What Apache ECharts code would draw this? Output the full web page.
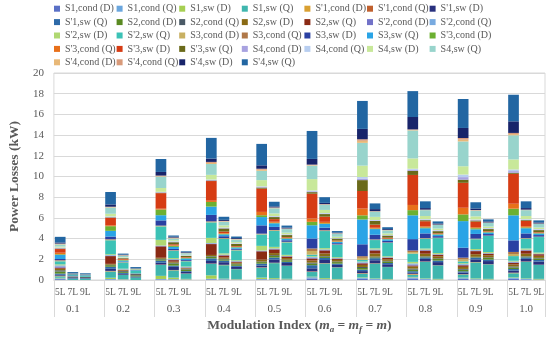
<!DOCTYPE html>
<html><head><meta charset="utf-8">
<script src="https://cdn.jsdelivr.net/npm/echarts@6/dist/echarts.min.js"></script>
<style>html,body{margin:0;padding:0;background:#fff}#c{width:550px;height:339px}</style>
</head><body><div id="c"></div>
<script>
const groups = ['0.1','0.2','0.3','0.4','0.5','0.6','0.7','0.8','0.9','1.0'];
const levels = ['5L','7L','9L'];
const seriesNames = [
 "S1,cond (D)","S1,cond (Q)","S1,sw (D)","S1,sw (Q)","S'1,cond (D)","S'1,cond (Q)","S'1,sw (D)","S'1,sw (Q)",
 "S2,cond (D)","S2,cond (Q)","S2,sw (D)","S2,sw (Q)","S'2,cond (D)","S'2,cond (Q)","S'2,sw (D)","S'2,sw (Q)",
 "S3,cond (D)","S3,cond (Q)","S3,sw (D)","S3,sw (Q)","S'3,cond (D)","S'3,cond (Q)","S'3,sw (D)","S'3,sw (Q)",
 "S4,cond (D)","S4,cond (Q)","S4,sw (D)","S4,sw (Q)","S'4,cond (D)","S'4,cond (Q)","S'4,sw (D)","S'4,sw (Q)"];
const yMin = 0, yMax = 20, yStep = 2;

// values per bar, in series order (S1,cond (D) ... S'4,sw (Q)), kW
const v01_5L = [0.08,0.08,0.05,0.15,0.03,0.03,0.08,0.12,0.2,0.12,0.15,0.1,0.12,0.1,0.1,0.3,0.05,0.05,0.12,0.4,0.06,0.15,0.35,0.05,0.05,0.05,0.1,0.2,0.04,0.04,0.1,0.55];
const v01_7L = [0,0,0,0.12,0,0,0.04,0.05,0,0.1,0,0.03,0.03,0,0,0.1,0,0,0.03,0.05,0,0,0,0.03,0,0,0,0.06,0,0,0.04,0.09];
const v01_9L = [0,0,0,0.1,0,0,0.03,0.05,0,0.1,0,0.03,0,0,0,0.1,0,0,0.02,0.04,0,0,0,0.03,0,0,0,0.05,0,0,0.03,0.07];
const v02_5L = [0.05,0.05,0.12,0.6,0.03,0.03,0.2,0.2,0.15,0.05,0.08,0.75,0.05,0.05,0.08,1.35,0.05,0.05,0.26,0.55,0.45,0.08,0.72,0.05,0.05,0.05,0.25,0.6,0.04,0.04,0.22,1.2];
const v02_7L = [0.03,0.03,0.03,0.4,0.01,0.01,0.08,0.1,0.1,0.08,0.06,0.05,0.03,0.03,0.05,0.6,0.02,0.02,0.05,0.1,0.05,0.05,0.06,0.07,0.03,0.03,0.05,0.12,0.03,0.03,0.05,0.1];
const v02_9L = [0,0,0,0.25,0,0,0.04,0.06,0.1,0.12,0,0.03,0.03,0,0,0.25,0,0,0.03,0.05,0,0,0,0.05,0,0,0.03,0.08,0,0,0.04,0.09];
const v03_5L = [0.05,0.05,0.3,1.05,0.02,0.02,0.18,0.2,0.12,0.06,0.1,1.1,0.04,0.04,0.55,1.3,0.04,0.04,0.5,0.5,0.55,0.08,1.5,0.05,0.04,0.04,0.37,1.1,0.05,0.05,0.35,1.25];
const v03_7L = [0.04,0.04,0.15,0.7,0.02,0.02,0.3,0.12,0.2,0.08,0.1,0.15,0.05,0.05,0.1,0.7,0.03,0.03,0.12,0.2,0.1,0.05,0.1,0.2,0.05,0.05,0.1,0.16,0.04,0.05,0.08,0.12];
const v03_9L = [0.03,0.03,0.05,0.5,0.01,0.01,0.15,0.08,0.15,0.08,0.05,0.05,0.03,0.03,0.05,0.51,0.02,0.02,0.08,0.15,0.05,0.03,0.05,0.12,0.03,0.03,0.05,0.15,0.02,0.02,0.06,0.08];
const v04_5L = [0.06,0.06,0.33,1.1,0.02,0.02,0.25,0.25,0.15,0.06,0.12,1.05,0.05,0.05,0.5,1.5,0.05,0.05,0.62,0.8,0.45,0.12,1.9,0.05,0.05,0.05,0.45,1.05,0.1,0.1,0.32,2.0];
const v04_7L = [0.04,0.04,0.05,1.3,0.02,0.02,0.25,0.15,0.12,0.06,0.12,0.2,0.04,0.04,0.12,1.4,0.04,0.04,0.18,0.18,0.06,0.06,0.15,0.3,0.05,0.05,0.2,0.35,0.04,0.04,0.1,0.3];
const v04_9L = [0.03,0.03,0.04,0.95,0.01,0.01,0.2,0.1,0.15,0.05,0.1,0.1,0.03,0.03,0.08,0.95,0.03,0.03,0.1,0.12,0.05,0.03,0.06,0.2,0.04,0.04,0.1,0.25,0.03,0.03,0.08,0.15];
const v05_5L = [0.05,0.05,0.13,0.95,0.02,0.02,0.18,0.18,0.15,0.06,0.18,0.8,0.04,0.04,0.45,1.1,0.04,0.04,0.8,0.8,0.18,0.32,2.25,0.1,0.06,0.06,0.6,0.9,0.1,0.1,0.33,2.07];
const v05_7L = [0.04,0.04,0.1,1.45,0.02,0.02,0.3,0.2,0.15,0.08,0.2,0.35,0.05,0.05,0.15,1.55,0.04,0.04,0.3,0.35,0.05,0.1,0.25,0.2,0.05,0.05,0.25,0.5,0.04,0.04,0.1,0.45];
const v05_9L = [0.03,0.03,0.06,1.25,0.01,0.01,0.25,0.12,0.15,0.06,0.15,0.15,0.03,0.03,0.1,1.2,0.03,0.03,0.15,0.15,0.05,0.04,0.06,0.2,0.04,0.04,0.15,0.35,0.03,0.03,0.08,0.2];
const v06_5L = [0.15,0.12,0.05,0.45,0.03,0.03,0.3,0.3,0.15,0.1,0.2,0.2,0.08,0.06,0.08,0.15,0.35,0.25,0.96,1.28,0.33,0.32,2.4,0.15,0.08,0.08,1.1,1.3,0.05,0.05,0.55,2.7];
const v06_7L = [0.04,0.04,0.1,1.41,0.02,0.02,0.3,0.2,0.12,0.06,0.25,0.3,0.05,0.05,0.12,1.65,0.04,0.04,0.25,0.35,0.06,0.15,0.5,0.25,0.05,0.05,0.3,0.5,0.03,0.03,0.12,0.55];
const v06_9L = [0.03,0.02,0.05,1.12,0.01,0.01,0.22,0.12,0.15,0.06,0.15,0.12,0.03,0.03,0.08,1.2,0.02,0.02,0.12,0.12,0.04,0.04,0.06,0.18,0.03,0.03,0.12,0.3,0.02,0.02,0.06,0.15];
const v07_5L = [0.12,0.08,0.05,0.35,0.03,0.03,0.2,0.15,0.15,0.1,0.2,0.15,0.06,0.06,0.06,0.15,0.2,0.16,1.15,2.4,0.4,0.65,1.7,1.05,0.15,0.15,1.1,2.2,0.2,0.15,1.0,2.7];
const v07_7L = [0.05,0.05,0.05,1.42,0.02,0.02,0.3,0.2,0.08,0.07,0.3,0.3,0.05,0.05,0.1,0.8,0.03,0.03,0.45,0.55,0.05,0.08,0.3,0.35,0.05,0.05,0.3,0.5,0.03,0.02,0.2,0.55];
const v07_9L = [0.03,0.02,0.05,1.15,0.01,0.01,0.25,0.12,0.15,0.06,0.15,0.15,0.03,0.03,0.08,1.3,0.02,0.02,0.15,0.15,0.04,0.04,0.08,0.2,0.03,0.03,0.15,0.3,0.02,0.02,0.08,0.18];
const v08_5L = [0.15,0.1,0.05,0.2,0.05,0.05,0.1,0.15,0.15,0.1,0.2,0.1,0.1,0.1,0.15,0.8,0.15,0.15,1.1,2.3,0.5,0.5,2.9,0.4,0.1,0.1,1.0,2.7,0.05,0.05,1.2,2.5];
const v08_7L = [0.05,0.05,0.05,1.6,0.02,0.02,0.25,0.15,0.05,0.05,0.25,0.3,0.05,0.05,0.1,0.95,0.03,0.03,0.45,0.5,0.08,0.1,0.5,0.1,0.05,0.05,0.3,0.57,0.03,0.02,0.15,0.65];
const v08_9L = [0.03,0.02,0.06,1.3,0.01,0.01,0.3,0.15,0.15,0.06,0.2,0.15,0.03,0.03,0.1,1.45,0.02,0.02,0.15,0.15,0.04,0.04,0.05,0.2,0.05,0.05,0.15,0.35,0.02,0.02,0.1,0.2];
const v09_5L = [0.1,0.08,0.05,0.3,0.02,0.02,0.15,0.12,0.15,0.08,0.2,0.15,0.06,0.06,0.08,0.18,0.2,0.16,0.96,2.57,0.65,0.64,2.41,0.3,0.25,0.25,0.8,2.4,0.17,0.16,0.97,2.8];
const v09_7L = [0.04,0.04,0.07,1.55,0.02,0.02,0.25,0.15,0.05,0.05,0.25,0.3,0.05,0.05,0.1,0.95,0.03,0.03,0.45,0.45,0.1,0.1,0.55,0.1,0.05,0.05,0.3,0.55,0.03,0.03,0.15,0.6];
const v09_9L = [0.03,0.02,0.06,1.4,0.01,0.01,0.3,0.15,0.15,0.06,0.2,0.15,0.03,0.03,0.1,1.55,0.02,0.02,0.15,0.15,0.04,0.04,0.05,0.2,0.05,0.05,0.15,0.35,0.02,0.02,0.1,0.2];
const v10_5L = [0.12,0.08,0.05,0.4,0.03,0.03,0.2,0.15,0.15,0.1,0.2,0.15,0.06,0.06,0.08,0.45,0.2,0.2,1.12,2.42,0.64,0.48,2.89,0.1,0.16,0.16,0.97,2.33,0.12,0.11,1.12,2.57];
const v10_7L = [0.05,0.05,0.05,1.6,0.02,0.02,0.25,0.15,0.05,0.05,0.25,0.3,0.05,0.05,0.1,0.95,0.03,0.03,0.45,0.5,0.08,0.12,0.5,0.08,0.05,0.05,0.3,0.57,0.03,0.02,0.15,0.65];
const v10_9L = [0.03,0.02,0.06,1.35,0.01,0.01,0.3,0.15,0.15,0.06,0.2,0.15,0.03,0.03,0.1,1.5,0.02,0.02,0.15,0.15,0.04,0.04,0.05,0.2,0.05,0.05,0.15,0.35,0.02,0.02,0.1,0.2];

const bars = [v01_5L,v01_7L,v01_9L, v02_5L,v02_7L,v02_9L, v03_5L,v03_7L,v03_9L, v04_5L,v04_7L,v04_9L,
  v05_5L,v05_7L,v05_9L, v06_5L,v06_7L,v06_9L, v07_5L,v07_7L,v07_9L, v08_5L,v08_7L,v08_9L,
  v09_5L,v09_7L,v09_9L, v10_5L,v10_7L,v10_9L];

const colors = ['#5a70c6','#6aa6de','#a6cf52','#3fb6ae','#d9a032','#c0602e','#28307e','#2e6aa8',
  '#5a8a22','#4a5a66','#8a6a14','#8a2a14','#7272c8','#78aae0','#b0d872','#3cc2b6',
  '#c8b062','#b07848','#2a40a2','#2aa4e6','#6cb032','#e8701a','#d63c14','#6a6a1a',
  '#a8a2e0','#b8cef0','#c8e89a','#98d4cc','#e8b878','#d89a7a','#18246a','#2266a2'];

const FONT = "'Liberation Serif','Times New Roman',serif";
const TXT = '#595959';
const GRID = '#d9d9d9';

// category slots: 3 bars per group, one empty slot between groups
const cats = [], slotBar = [];
groups.forEach((g, gi) => {
  levels.forEach((l, li) => { cats.push(l); slotBar.push(gi * 3 + li); });
  if (gi < groups.length - 1) { cats.push(''); slotBar.push(-1); }
});

const series = seriesNames.map((name, si) => ({
  name, type: 'bar', stack: 'total', barCategoryGap: '15%',
  itemStyle: { color: colors[si] },
  emphasis: { disabled: true },
  data: slotBar.map(b => b < 0 ? null : bars[b][si])
}));

// legend laid out as 7 columns (row-wise reading order)
const COLS = 7;
const legends = [];
for (let c = 0; c < COLS; c++) {
  const names = seriesNames.filter((n, i) => i % COLS === c);
  legends.push({
    orient: 'vertical', left: 54 + c * 62.6, top: 2,
    itemWidth: 6, itemHeight: 6, itemGap: 0, icon: 'rect', selectedMode: false, padding: 0,
    textStyle: { fontFamily: FONT, fontSize: 10, color: TXT, lineHeight: 13.4 },
    data: names
  });
}

const chart = echarts.init(document.getElementById('c'), null, { renderer: 'canvas' });
chart.setOption({
  animation: false,
  backgroundColor: '#ffffff',
  textStyle: { fontFamily: FONT },
  legend: legends,
  grid: { left: 36, right: 5, top: 73, bottom: 58, show: true, borderColor: GRID, borderWidth: 1 },
  xAxis: [{
    type: 'category', data: cats, position: 'bottom',
    axisLine: { lineStyle: { color: GRID } },
    axisTick: { show: false },
    axisLabel: { interval: 0, margin: 7, fontFamily: FONT, fontSize: 9.5, color: TXT },
    name: '{b|Modulation Index (}{i|m}{s|a}{b| = }{i|m}{s|f}{b| = }{i|m}{b|)}',
    nameLocation: 'middle', nameGap: 37,
    nameTextStyle: {
      rich: {
        b: { fontFamily: FONT, fontSize: 13.5, fontWeight: 'bold', color: TXT },
        i: { fontFamily: FONT, fontSize: 13.5, fontWeight: 'bold', fontStyle: 'italic', color: TXT },
        s: { fontFamily: FONT, fontSize: 9, fontWeight: 'bold', fontStyle: 'italic', color: TXT, padding: [8, 0, 0, 0] }
      }
    }
  }, {
    type: 'category', data: cats, position: 'bottom', offset: 0,
    axisLine: { show: false },
    axisTick: { show: true, length: 37, interval: (i) => i % 4 === 0, lineStyle: { color: GRID } },
    axisLabel: { interval: (i) => i % 4 === 1, margin: 24, fontFamily: FONT, fontSize: 11, color: TXT,
      formatter: (v, i) => groups[Math.floor(i / 4)] },
    splitLine: { show: false }
  }],
  yAxis: {
    type: 'value', min: yMin, max: yMax, interval: yStep,
    axisLine: { show: false }, axisTick: { show: false },
    splitLine: { lineStyle: { color: GRID } },
    axisLabel: { margin: 10, fontFamily: FONT, fontSize: 11, color: TXT },
    name: 'Power Losses (kW)', nameLocation: 'middle', nameGap: 20,
    nameTextStyle: { fontFamily: FONT, fontSize: 13.5, fontWeight: 'bold', color: TXT }
  },
  series
});
</script></body></html>
